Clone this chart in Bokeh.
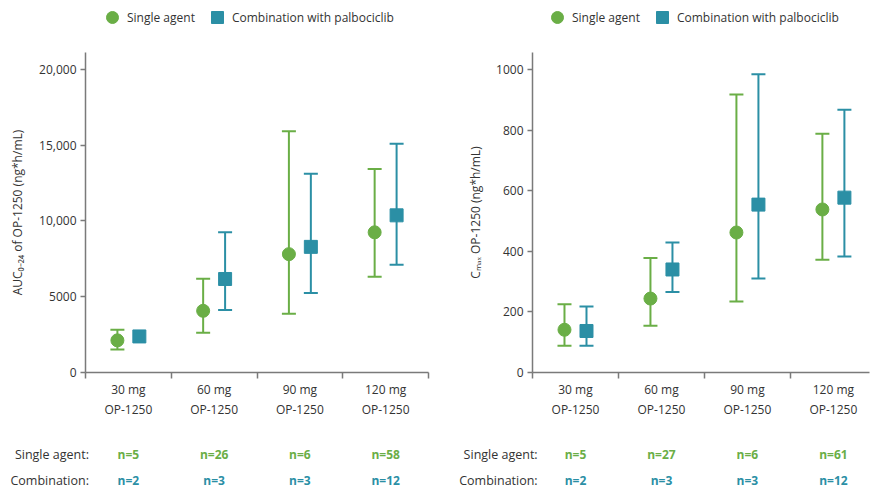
import math
from bokeh.plotting import figure
from bokeh.models import (ColumnDataSource, Range1d, FixedTicker, Whisker, TeeHead,
                          Legend, LegendItem)
from bokeh.transform import dodge
from bokeh.layouts import column, row
from bokeh.embed import file_html
from bokeh.resources import INLINE
from bokeh.core.properties import value

NaN = float("nan")

# ---------------- data ----------------
doses = ["30 mg", "60 mg", "90 mg", "120 mg"]
drug = "OP-1250"
legend_labels = ["Single agent", "Combination with palbociclib"]
row_labels = ["Single agent:", "Combination:"]

# AUC0-24 (ng*h/mL): mean, lower, upper
auc_single = [2120, 4070, 7810, 9250]
auc_single_lo = [1510, 2620, 3870, 6320]
auc_single_hi = [2820, 6190, 15920, 13430]
auc_combo = [2380, 6170, 8290, 10370]
auc_combo_lo = [NaN, 4130, 5250, 7110]
auc_combo_hi = [NaN, 9250, 13120, 15090]
auc_ticks = [0, 5000, 10000, 15000, 20000]
auc_tick_labels = ["0", "5000", "10,000", "15,000", "20,000"]
auc_n_single = [5, 26, 6, 58]
auc_n_combo = [2, 3, 3, 12]

# Cmax (ng*h/mL)
cmax_single = [141, 244, 462, 538]
cmax_single_lo = [88, 154, 234, 372]
cmax_single_hi = [225, 378, 917, 788]
cmax_combo = [137, 340, 554, 577]
cmax_combo_lo = [88, 266, 310, 383]
cmax_combo_hi = [218, 429, 984, 867]
cmax_ticks = [0, 200, 400, 600, 800, 1000]
cmax_tick_labels = ["0", "200", "400", "600", "800", "1000"]
cmax_n_single = [5, 27, 6, 61]
cmax_n_combo = [2, 3, 3, 12]

auc_label = "AUC\u2080\u208b\u2082\u2084 of OP-1250 (ng*h/mL)"
cmax_label = "C\u2098\u2090\u2093 OP-1250 (ng*h/mL)"

# ---------------- style ----------------
GREEN = "#6aae46"
TEAL = "#2b8fa5"
AXIS = "#7a7a7a"
TEXT = "#333333"
FONT = "Open Sans"
OFF = 0.128
LEG_H = 34
CHART_H = 386


def legend_strip(width, left):
    f = figure(width=width, height=LEG_H, x_range=Range1d(0, 1), y_range=Range1d(0, 1),
               output_backend="svg", toolbar_location=None,
               x_axis_location=None, y_axis_location=None, min_border=0)
    f.outline_line_color = None
    f.grid.visible = False
    # legend-only renderers (no visible data)
    r1 = f.scatter(x=[NaN], y=[NaN], marker="circle", size=13, fill_color=GREEN, line_color=GREEN)
    r2 = f.scatter(x=[NaN], y=[NaN], marker="square", size=13, fill_color=TEAL, line_color=TEAL)
    legend = Legend(items=[LegendItem(label=legend_labels[0], renderers=[r1], index=0),
                           LegendItem(label=legend_labels[1], renderers=[r2], index=0)],
                    orientation="horizontal", location=(left, 2),
                    glyph_width=30, glyph_height=30, label_standoff=0, spacing=7,
                    padding=0, margin=0, border_line_color=None, background_fill_alpha=0,
                    label_text_font=FONT, label_text_font_size="12px",
                    label_text_color=TEXT)
    f.add_layout(legend, "center")
    return f


def chart(width, bl, br, x_end, ymax, ticks, tick_labels, ylabel, standoff,
          ms, ls, hs, mc, lc, hc):
    centers = [i + 0.5 for i in range(len(doses))]
    p = figure(width=width, height=CHART_H, x_range=Range1d(0, x_end), y_range=Range1d(0, ymax),
               output_backend="svg", toolbar_location=None,
               min_border_left=bl, min_border_right=br, min_border_top=18, min_border_bottom=46)
    p.outline_line_color = None
    p.grid.visible = False

    xa = p.xaxis[0]
    xa.ticker = FixedTicker(ticks=centers, minor_ticks=list(range(len(doses) + 1)))
    xa.major_label_overrides = {c: f"{d}\n{drug}" for c, d in zip(centers, doses)}
    xa.major_tick_line_color = None
    xa.major_tick_out = 2
    xa.major_tick_in = 0
    xa.minor_tick_line_color = AXIS
    xa.minor_tick_line_width = 1.5
    xa.minor_tick_out = 6
    xa.minor_tick_in = 0
    xa.major_label_standoff = 2

    ya = p.yaxis[0]
    ya.ticker = FixedTicker(ticks=ticks, minor_ticks=[])
    ya.major_label_overrides = {t: l for t, l in zip(ticks, tick_labels)}
    ya.major_tick_out = 5
    ya.major_tick_in = 0
    ya.major_tick_line_color = AXIS
    ya.major_tick_line_width = 1.5
    ya.major_label_standoff = 4
    ya.axis_label = ylabel
    ya.axis_label_standoff = standoff
    ya.axis_label_text_font_style = "normal"

    for ax in (xa, ya):
        ax.axis_line_color = AXIS
        ax.axis_line_width = 1.5
        ax.major_label_text_font = FONT
        ax.major_label_text_font_size = "12px"
        ax.major_label_text_color = TEXT
        ax.axis_label_text_font = FONT
        ax.axis_label_text_font_size = "12px"
        ax.axis_label_text_color = TEXT

    for mean, lo, hi, off, color, marker in ((ms, ls, hs, -OFF, GREEN, "circle"),
                                            (mc, lc, hc, OFF, TEAL, "square")):
        src = ColumnDataSource(dict(x=centers, y=mean))
        keep = [i for i in range(len(doses)) if not (math.isnan(lo[i]) or math.isnan(hi[i]))]
        wsrc = ColumnDataSource(dict(x=[centers[i] for i in keep],
                                     lo=[lo[i] for i in keep], hi=[hi[i] for i in keep]))
        w = Whisker(base=dodge("x", off), lower="lo", upper="hi", source=wsrc,
                    line_color=color, line_width=2,
                    upper_head=TeeHead(size=14, line_color=color, line_width=2),
                    lower_head=TeeHead(size=14, line_color=color, line_width=2))
        p.add_layout(w)
        p.scatter(x=dodge("x", off), y="y", source=src, marker=marker, size=13,
                  fill_color=color, line_color=color)
    return p


def table(width, bl, br, x_end, label_x, n_s, n_c):
    centers = [i + 0.5 for i in range(len(doses))]
    cat_px = (width - bl - br) / x_end
    t = figure(width=width, height=70,
               x_range=Range1d(-bl / cat_px, x_end + br / cat_px),
               y_range=Range1d(-0.385, 2.31),
               output_backend="svg", toolbar_location=None,
               x_axis_location=None, y_axis_location=None, min_border=0)
    t.outline_line_color = None
    t.grid.visible = False
    t.text(x=[label_x, label_x], y=[1, 0], text=row_labels, text_align="right",
           text_baseline="middle", text_font=value(FONT), text_font_size="12.5px",
           text_color=TEXT)
    t.text(x=centers, y=[1] * len(centers), text=[f"n={n}" for n in n_s], text_align="center",
           text_baseline="middle", text_font=value(FONT), text_font_size="12px",
           text_color=GREEN, text_font_style="bold")
    t.text(x=centers, y=[0] * len(centers), text=[f"n={n}" for n in n_c], text_align="center",
           text_baseline="middle", text_font=value(FONT), text_font_size="12px",
           text_color=TEAL, text_font_style="bold")
    return t


l1 = legend_strip(440, 97)
l2 = legend_strip(431, 102)
p1 = chart(440, 85, 12, 4, 21115, auc_ticks, auc_tick_labels, auc_label, 10,
           auc_single, auc_single_lo, auc_single_hi, auc_combo, auc_combo_lo, auc_combo_hi)
p2 = chart(431, 92, 2, 3.92, 1056, cmax_ticks, cmax_tick_labels, cmax_label, 9,
           cmax_single, cmax_single_lo, cmax_single_hi, cmax_combo, cmax_combo_lo, cmax_combo_hi)
t1 = table(440, 85, 12, 4, 0.04, auc_n_single, auc_n_combo)
t2 = table(431, 92, 2, 3.92, 0.06, cmax_n_single, cmax_n_combo)

layout = column(row(l1, l2, spacing=0), row(p1, p2, spacing=0), row(t1, t2, spacing=0),
                spacing=0)
open("out.html", "w").write(file_html(layout, INLINE))
